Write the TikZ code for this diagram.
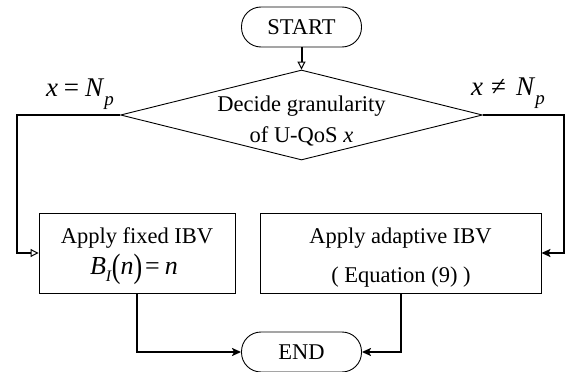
\documentclass[tikz,border=0pt]{standalone}
\usepackage{fontspec}
\usepackage{graphicx}
\setmainfont{Liberation Serif}
\usetikzlibrary{arrows.meta,shapes.geometric}

\begin{document}
\begin{tikzpicture}[x=1pt,y=-1pt,
  every node/.style={font=\fontsize{22.5}{27}\selectfont, inner sep=0pt},
  terminal/.style={draw, line width=0.9pt, rectangle, rounded corners=19.5pt,
    minimum width=120pt, minimum height=40pt},
  procbox/.style={draw, line width=0.9pt, rectangle, minimum height=80pt},
  decision/.style={draw, line width=0.9pt, diamond,
    minimum width=362pt, minimum height=90pt},
  flow/.style={line width=2pt},
  openhead/.style={-{Triangle[open,length=8pt,width=8pt,line width=1pt]}},
  fillhead/.style={-{Stealth[length=9pt,width=8pt,inset=2pt]}},
  txt/.style={anchor=base},
  mathtxt/.style={anchor=base, font=\fontsize{26}{30}\selectfont},
  branchtxt/.style={anchor=base, font=\fontsize{27}{30}\selectfont}
]
\useasboundingbox (0,0) rectangle (566,372);

% terminals and decision
\node[terminal] (start) at (301.5,27) {START};
\node[decision] (dec) at (301.5,115) {};
\node[txt] (dec1) at (301.5,111) {Decide granularity};
\node[txt] (dec2) at (301.5,142) {of U-QoS \textit{x}};

% process boxes
\node[procbox, minimum width=196pt] (fixed) at (137,253) {};
\node[txt] (fix1) at (137,243) {Apply fixed IBV};
\node[mathtxt] (fix2) at (134,274) {\textit{B}\raisebox{-0.3em}{\fontsize{16}{16}\selectfont\textit{I}}\raisebox{-0.12em}{\scalebox{1}[1.3]{(}}\textit{n}\raisebox{-0.12em}{\scalebox{1}[1.3]{)}}\hspace{3pt}=\hspace{5pt}\textit{n}};

\node[procbox, minimum width=281pt] (adapt) at (400.5,253) {};
\node[txt] (ad1) at (400.5,243) {Apply adaptive IBV};
\node[txt] (ad2) at (401,282) {( Equation (9) )};

\node[terminal] (end) at (301.5,352) {END};

% branch conditions
\node[branchtxt] (yes) at (80,96) {\textit{x}\hspace{6pt}=\hspace{6pt}\textit{N}\raisebox{-0.35em}{\fontsize{19}{19}\selectfont\textit{p}}};
\node[branchtxt] (no) at (508,95) {\textit{x}\hspace{8pt}≠\hspace{10pt}\textit{N}\raisebox{-0.35em}{\fontsize{19}{19}\selectfont\textit{p}}};

% connectors
\draw[flow, openhead] (start.south) -- (dec.north);
\draw[flow, openhead] (dec.west) -- ++(-103,0) |- (fixed.west);
\draw[flow, fillhead] (dec.east) -- ++(81,0) |- (adapt.east);
\draw[flow, fillhead] (fixed.south) |- (end.west);
\draw[flow, fillhead] (adapt.south) |- (end.east);
\end{tikzpicture}
\end{document}
